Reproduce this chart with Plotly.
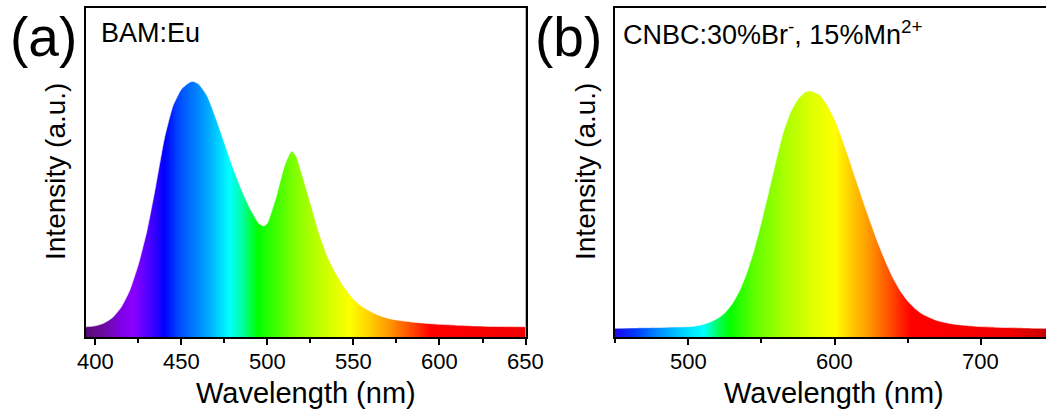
import plotly.graph_objects as go

# ---------------- data ----------------
# Panel (a) BAM:Eu emission
wl_a = [395, 400, 405, 410, 415, 420, 425, 430, 435, 440, 445, 450, 455, 457, 460, 465,
        470, 475, 480, 485, 490, 495, 498, 500, 505, 510, 514, 517, 520, 525, 530, 535,
        540, 545, 550, 555, 560, 565, 570, 575, 580, 590, 600, 610, 620, 630, 640, 650]
int_a = [10.3, 11.2, 14, 19.5, 30, 47, 73, 107, 151, 198, 231, 248, 255, 255.5, 253, 241,
         219, 194, 169, 147, 128, 113.5, 111, 114, 140, 172, 186, 180, 163, 134, 104, 80,
         63, 49, 38, 30.5, 25.5, 21.5, 18.8, 17, 15.8, 14, 12.7, 11.8, 11.1, 10.6, 10.4, 10.3]

# Panel (b) CNBC:30%Br-, 15%Mn2+ emission
wl_b = [450, 460, 470, 480, 490, 500, 505, 510, 515, 520, 525, 530, 535, 540, 545, 550,
        555, 560, 565, 570, 575, 580, 583, 585, 590, 595, 600, 605, 610, 615, 620, 625,
        630, 635, 640, 645, 650, 655, 660, 665, 670, 680, 690, 700, 710, 720, 730, 740, 750]
int_b = [8.7, 9, 9.3, 9.5, 10, 10.3, 11, 12.5, 15, 18.5, 24, 33, 46, 64, 87, 115,
         145, 176, 205, 225, 238, 245, 246, 245.5, 242, 232, 218, 199, 178, 156, 134, 113,
         93, 75, 59, 46, 36, 28.5, 23, 19.5, 16.5, 13.2, 11.5, 10.4, 9.8, 9.4, 9.1, 8.8, 8.6]

ticks_a = [400, 450, 500, 550, 600, 650]
ticks_b = [500, 600, 700]

# colour of the fill versus wavelength (colour stops)
stops_a_wl = [395, 405, 415, 422, 430, 440, 447, 455, 465, 472, 478, 485, 494, 505, 515,
              530, 548, 560, 572, 585, 595, 650]
stops_a_col = ["#5a0a78", "#6c0aa2", "#8000e8", "#8a00ff", "#5500ff", "#0000ff", "#0040ff",
               "#0070ff", "#00a8ff", "#00d8ff", "#00ffff", "#00ffa0", "#00ff00", "#40ff00",
               "#80ff00", "#c0ff00", "#ffff00", "#ffcc00", "#ff9000", "#ff4000", "#ff0000",
               "#f00000"]
stops_b_wl = [450, 465, 480, 495, 510, 520, 528, 545, 565, 585, 600, 612, 625, 640, 652,
              720, 750]
stops_b_col = ["#1a08f0", "#0040ff", "#0090ff", "#00d0ff", "#00ffff", "#00ff60", "#00ff00",
               "#60ff00", "#a8ff00", "#e0ff00", "#ffff00", "#ffc800", "#ff9000", "#ff4000",
               "#ff0000", "#f00000", "#c00000"]

xr_a = [394.5, 650]
xr_b = [450, 744.5]
y_top = 329

FONT = "Liberation Sans"


def cscale(wls, cols):
    lo, hi = wls[0], wls[-1]
    return [[(w - lo) / (hi - lo), c] for w, c in zip(wls, cols)]


fig = go.Figure()

for wl, inten, swl, scol, xr, xa, ya in [
    (wl_a, int_a, stops_a_wl, stops_a_col, xr_a, "x", "y"),
    (wl_b, int_b, stops_b_wl, stops_b_col, xr_b, "x2", "y2"),
]:
    # rainbow gradient background
    fig.add_trace(go.Heatmap(
        x=wl, y=[0, y_top], z=[wl, wl],
        colorscale=cscale(swl, scol), zmin=swl[0], zmax=swl[-1],
        zsmooth="best", showscale=False, hoverinfo="skip",
        xaxis=xa, yaxis=ya))
    # white mask above the spectrum: invisible top edge, then curve filled up to it
    lo = min(xr[0], wl[0])
    hi = max(xr[1], wl[-1])
    fig.add_trace(go.Scatter(
        x=[lo, hi], y=[y_top * 1.2, y_top * 1.2], mode="lines",
        line=dict(color="white", width=0), hoverinfo="skip", showlegend=False,
        xaxis=xa, yaxis=ya))
    cx = list(wl)
    cy = list(inten)
    if xr[0] < wl[0]:
        cx = [xr[0]] + cx
        cy = [inten[0]] + cy
    if xr[1] > wl[-1]:
        cx = cx + [xr[1]]
        cy = cy + [inten[-1]]
    fig.add_trace(go.Scatter(
        x=cx, y=cy, fill="tonexty", fillcolor="white", mode="lines",
        line=dict(color="white", width=0.6, shape="spline", smoothing=0.5),
        hoverinfo="skip", showlegend=False, xaxis=xa, yaxis=ya))

W, H = 1046, 414
ydom = [77 / H, 406 / H]

common_x = dict(showgrid=False, zeroline=False, ticks="outside", ticklen=6, tickwidth=2,
                tickcolor="black", showline=True, linewidth=2, linecolor="black", mirror=True,
                showticklabels=False)
common_y = dict(showgrid=False, zeroline=False, showticklabels=False, ticks="",
                showline=True, linewidth=2, linecolor="black", range=[0, y_top],
                fixedrange=True)

fig.update_layout(
    width=W, height=H, margin=dict(l=0, r=0, t=0, b=0),
    font=dict(family=FONT, size=22, color="black"),
    paper_bgcolor="white", plot_bgcolor="white", showlegend=False,
    xaxis=dict(domain=[86 / W, 525.5 / W], range=xr_a, tickmode="array", tickvals=ticks_a,
               minor=dict(dtick=25, tick0=400, ticks="outside", ticklen=4, tickwidth=2,
                          tickcolor="black"),
               anchor="y", **common_x),
    yaxis=dict(domain=ydom, anchor="x", mirror=True, **common_y),
    xaxis2=dict(domain=[615 / W, 1.0], range=xr_b, tickmode="array", tickvals=ticks_b,
                minor=dict(dtick=50, tick0=450, ticks="outside", ticklen=4, tickwidth=2,
                           tickcolor="black"),
                anchor="y2", **common_x),
    yaxis2=dict(domain=ydom, anchor="x2", mirror=False, **common_y),
)


def px(x):
    return x / W


def py(y):
    return (H - y) / H


# tick labels placed on the axes' own data scale
for ticks, xref in [(ticks_a, "x"), (ticks_b, "x2")]:
    for t in ticks:
        fig.add_annotation(text=str(t), x=t, xref=xref, y=py(361), yref="paper",
                           xanchor="center", yanchor="middle", showarrow=False,
                           font=dict(family=FONT, size=22, color="black"))

ann = [
    dict(text="(a)", x=px(43), y=py(37), size=55, xanchor="center", angle=0),
    dict(text="(b)", x=px(568), y=py(37), size=55, xanchor="center", angle=0),
    dict(text="BAM:Eu", x=px(99), y=py(33), size=27, xanchor="left", angle=0),
    dict(text="CNBC:30%Br<sup>-</sup>, 15%Mn<sup>2+</sup>", x=px(621), y=py(33), size=27,
         xanchor="left", angle=0),
    dict(text="Intensity (a.u.)", x=px(56), y=py(172), size=28, xanchor="center", angle=-90),
    dict(text="Intensity (a.u.)", x=px(586), y=py(172), size=28, xanchor="center", angle=-90),
    dict(text="Wavelength (nm)", x=px(306), y=py(393), size=29, xanchor="center", angle=0),
    dict(text="Wavelength (nm)", x=px(834), y=py(393), size=29, xanchor="center", angle=0),
]
for a in ann:
    fig.add_annotation(text=a["text"], x=a["x"], y=a["y"], xref="paper", yref="paper",
                       xanchor=a["xanchor"], yanchor="middle", showarrow=False,
                       textangle=a["angle"],
                       font=dict(family=FONT, size=a["size"], color="black"))

fig.write_html("out.html")
